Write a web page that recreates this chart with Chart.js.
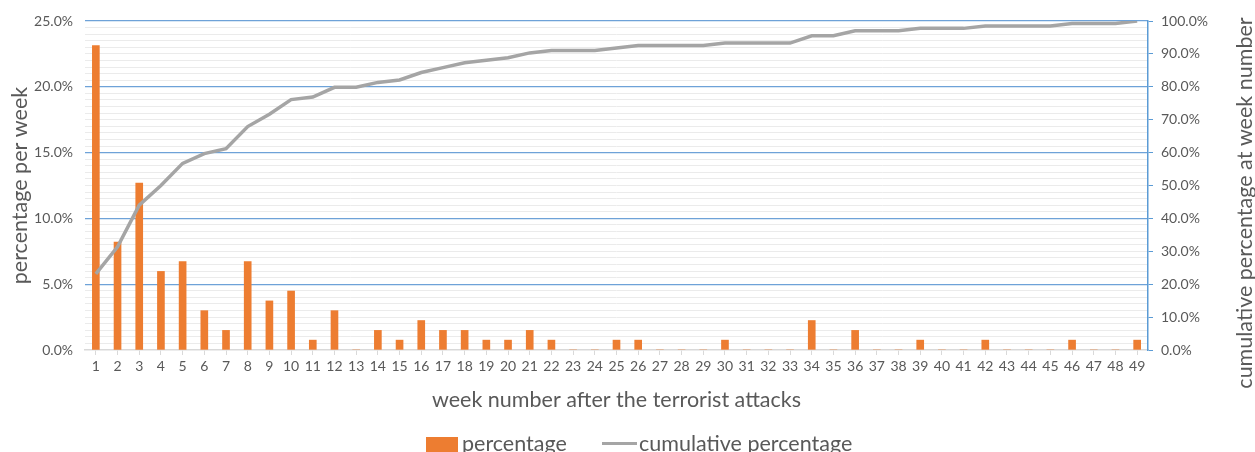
<!DOCTYPE html>
<html>
<head>
<meta charset="utf-8">
<script src="https://cdn.jsdelivr.net/npm/chart.js@4"></script>
<style>
  html, body { margin: 0; padding: 0; background: #ffffff; }
  #wrap { width: 1255px; height: 452px; position: relative; overflow: hidden; }
</style>
</head>
<body>
<div id="wrap"><canvas id="chart" width="1255" height="452"></canvas></div>
<script>
// Week numbers after the attacks
const weeks = ['1','2','3','4','5','6','7','8','9','10','11','12','13','14','15','16','17','18','19','20',
  '21','22','23','24','25','26','27','28','29','30','31','32','33','34','35','36','37','38','39','40',
  '41','42','43','44','45','46','47','48','49'];

// Share of attacks in each week (%)
const weeklyPercentage = [23.13, 8.21, 12.69, 5.97, 6.72, 2.99, 1.49, 6.72, 3.73, 4.48,
  0.75, 2.99, 0, 1.49, 0.75, 2.24, 1.49, 1.49, 0.75, 0.75,
  1.49, 0.75, 0, 0, 0.75, 0.75, 0, 0, 0, 0.75,
  0, 0, 0, 2.24, 0, 1.49, 0, 0, 0.75, 0,
  0, 0.75, 0, 0, 0, 0.75, 0, 0, 0.75];

// Cumulative share up to each week (%)
const cumulativePercentage = [23.13, 31.34, 44.03, 50.00, 56.72, 59.70, 61.19, 67.91, 71.64, 76.12,
  76.87, 79.85, 79.85, 81.34, 82.09, 84.33, 85.82, 87.31, 88.06, 88.81,
  90.30, 91.04, 91.04, 91.04, 91.79, 92.54, 92.54, 92.54, 92.54, 93.28,
  93.28, 93.28, 93.28, 95.52, 95.52, 97.01, 97.01, 97.01, 97.76, 97.76,
  97.76, 98.51, 98.51, 98.51, 98.51, 99.25, 99.25, 99.25, 100.00];

const FONT = 'Lato, "Open Sans", sans-serif';
const TEXT = '#595959';
const ORANGE = '#ED7D31';
const GREY = '#A5A5A5';
const MAJOR = '#6EA2D8';
const MINOR = '#EBEBEB';
const AXIS_BLUE = '#5B9BD5';
const TITLE_SIZE = 21.5;
const TICK_SIZE = 14;

// Right-hand axis title (reads bottom to top) and bottom legend
const extras = {
  id: 'extras',
  afterDraw(chart) {
    const ctx = chart.ctx;
    ctx.save();
    ctx.fillStyle = TEXT;
    ctx.font = TITLE_SIZE + 'px ' + FONT;
    ctx.textAlign = 'center';
    ctx.textBaseline = 'middle';
    ctx.translate(1245, 203);
    ctx.rotate(-Math.PI / 2);
    ctx.fillText('cumulative percentage at week number', 0, 0);
    ctx.restore();

    const ds = chart.data.datasets;
    ctx.save();
    ctx.font = TITLE_SIZE + 'px ' + FONT;
    ctx.textAlign = 'left';
    ctx.textBaseline = 'alphabetic';
    // bar series swatch
    ctx.fillStyle = ds[1].backgroundColor;
    ctx.fillRect(426, 437, 32, 16);
    ctx.fillStyle = TEXT;
    ctx.fillText(ds[1].label, 462, 451);
    // line series swatch
    ctx.strokeStyle = ds[0].borderColor;
    ctx.lineWidth = 3;
    ctx.beginPath();
    ctx.moveTo(602, 443.5);
    ctx.lineTo(637, 443.5);
    ctx.stroke();
    ctx.fillText(ds[0].label, 639, 451);
    ctx.restore();
  }
};

new Chart(document.getElementById('chart'), {
  type: 'bar',
  data: {
    labels: weeks,
    datasets: [
      {
        type: 'line',
        label: 'cumulative percentage',
        data: cumulativePercentage,
        yAxisID: 'y1',
        borderColor: GREY,
        backgroundColor: GREY,
        borderWidth: 3.5,
        pointRadius: 0,
        tension: 0,
        order: 0
      },
      {
        type: 'bar',
        label: 'percentage',
        data: weeklyPercentage,
        yAxisID: 'y',
        backgroundColor: ORANGE,
        barThickness: 7,
        order: 1
      }
    ]
  },
  options: {
    responsive: false,
    animation: false,
    layout: { padding: { top: 21, left: 0, right: 0, bottom: 0 } },
    plugins: {
      legend: { display: false },
      tooltip: { enabled: false }
    },
    scales: {
      x: {
        offset: true,
        grid: { offset: false, drawOnChartArea: false, drawTicks: true, tickLength: 5, color: '#D9D9D9' },
        border: { color: '#D9D9D9', width: 1.5 },
        ticks: { color: TEXT, font: { family: FONT, size: TICK_SIZE }, maxRotation: 0, autoSkip: false, padding: 3 },
        title: {
          display: true,
          text: 'week number after the terrorist attacks',
          color: TEXT,
          font: { family: FONT, size: TITLE_SIZE },
          padding: { top: 0, bottom: 39 }
        },
        afterFit(s) { s.height = 102; }
      },
      y: {
        position: 'left',
        min: 0,
        max: 25,
        grid: {
          drawTicks: false,
          lineWidth(c) {
            const v = c.tick.value;
            return Math.abs(v / 5 - Math.round(v / 5)) < 1e-9 ? 1.3 : 1;
          },
          color(c) {
            const v = c.tick.value;
            if (Math.abs(v) < 1e-9) return 'rgba(0,0,0,0)';
            return Math.abs(v / 5 - Math.round(v / 5)) < 1e-9 ? MAJOR : MINOR;
          }
        },
        border: { display: false },
        ticks: {
          stepSize: 0.5,
          autoSkip: false,
          color: TEXT,
          font: { family: FONT, size: TICK_SIZE },
          padding: 12,
          callback(v) {
            return Math.abs(v / 5 - Math.round(v / 5)) < 1e-9 ? v.toFixed(1) + '%' : '';
          }
        },
        title: {
          display: true,
          text: 'percentage per week',
          color: TEXT,
          font: { family: FONT, size: TITLE_SIZE },
          padding: { top: 7, bottom: 0 }
        },
        afterFit(s) { s.width = 85; }
      },
      y1: {
        position: 'right',
        min: 0,
        max: 100,
        grid: { drawOnChartArea: false, drawTicks: true, tickLength: 5, color: AXIS_BLUE },
        border: { color: AXIS_BLUE, width: 1.5 },
        ticks: {
          stepSize: 10,
          color: TEXT,
          font: { family: FONT, size: TICK_SIZE },
          padding: 8,
          callback(v) { return v.toFixed(1) + '%'; }
        },
        afterFit(s) { s.width = 107; }
      }
    }
  },
  plugins: [extras]
});
</script>
</body>
</html>
